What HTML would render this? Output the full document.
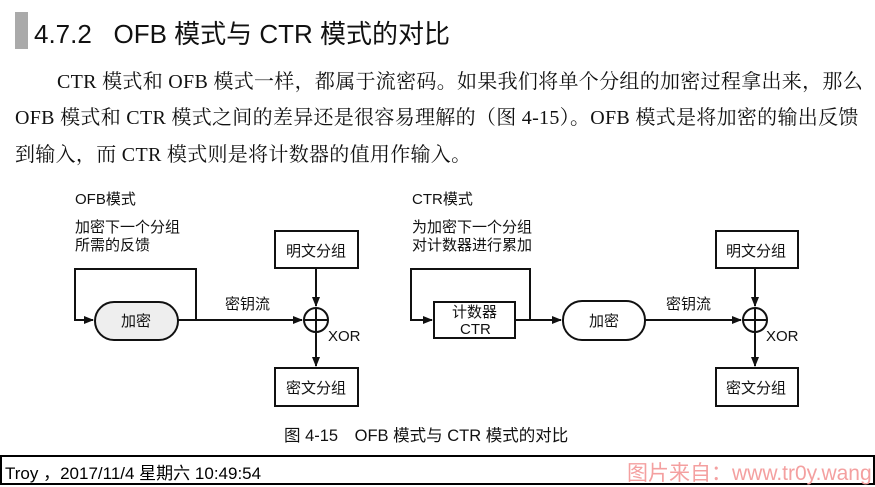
<!DOCTYPE html>
<html><head><meta charset="utf-8"><style>
body{margin:0;width:875px;height:485px;background:#fff;overflow:hidden;position:relative;font-family:"Liberation Sans","Noto Sans CJK SC",sans-serif;}
.t{position:absolute;white-space:nowrap;color:#111;}
.p{font-family:"Liberation Serif","Noto Serif CJK SC",serif;font-size:20px;letter-spacing:0.3px;}
</style></head><body>
<div style="position:absolute;left:15px;top:12px;width:13px;height:37px;background:#aaa"></div>
<div class="t" style="left:34px;top:14px;font-size:26px;">4.7.2&nbsp;&nbsp; OFB 模式与 CTR 模式的对比</div>
<div class="t p" style="left:57px;top:65px;">CTR 模式和 OFB 模式一样，都属于流密码。如果我们将单个分组的加密过程拿出来，那么</div>
<div class="t p" style="left:15px;top:101px;">OFB 模式和 CTR 模式之间的差异还是很容易理解的（图 4-15）。OFB 模式是将加密的输出反馈</div>
<div class="t p" style="left:15px;top:138px;">到输入，而 CTR 模式则是将计数器的值用作输入。</div>
<svg width="875" height="485" style="position:absolute;left:0;top:0" font-family="Liberation Sans,Noto Sans CJK SC,sans-serif" font-size="15" fill="#111">
<defs><marker id="a" markerWidth="10" markerHeight="8" refX="9" refY="4" orient="auto" markerUnits="userSpaceOnUse"><path d="M0,0L10,4L0,8z" fill="#111"/></marker></defs>
<g stroke="#111" stroke-width="2" fill="none">
<path d="M196,320V269H75V320H93" marker-end="url(#a)"/>
<rect x="95" y="302" width="83" height="38" rx="19" fill="#eee"/>
<path d="M178,320H302" marker-end="url(#a)"/>
<circle cx="316" cy="320" r="12"/><path d="M304,320H328M316,308V332"/>
<rect x="275" y="231" width="83" height="37"/>
<path d="M316,268V306" marker-end="url(#a)"/>
<path d="M316,332V366" marker-end="url(#a)"/>
<rect x="275" y="368" width="83" height="38"/>
<path d="M530,320V269H411V320H432" marker-end="url(#a)"/>
<rect x="434" y="302" width="81" height="36"/>
<path d="M515,320H561" marker-end="url(#a)"/>
<rect x="563" y="301" width="82" height="39" rx="19"/>
<path d="M645,320H741" marker-end="url(#a)"/>
<circle cx="755" cy="320" r="12"/><path d="M743,320H767M755,308V332"/>
<rect x="716" y="231" width="82" height="37"/>
<path d="M755,268V306" marker-end="url(#a)"/>
<path d="M755,332V366" marker-end="url(#a)"/>
<rect x="716" y="368" width="82" height="38"/>
</g>
<text x="75" y="204">OFB模式</text>
<text x="75" y="232">加密下一个分组</text>
<text x="75" y="250">所需的反馈</text>
<text x="121" y="326">加密</text>
<text x="225" y="309">密钥流</text>
<text x="286" y="256">明文分组</text>
<text x="286" y="393">密文分组</text>
<text x="328" y="341">XOR</text>
<text x="412" y="204">CTR模式</text>
<text x="412" y="232">为加密下一个分组</text>
<text x="412" y="250">对计数器进行累加</text>
<text x="452" y="317">计数器</text>
<text x="460" y="334">CTR</text>
<text x="589" y="326">加密</text>
<text x="666" y="309">密钥流</text>
<text x="726" y="256">明文分组</text>
<text x="726" y="393">密文分组</text>
<text x="766" y="341">XOR</text>
<text x="284" y="441" font-size="16.5">图 4-15　OFB 模式与 CTR 模式的对比</text>
</svg>
<div style="position:absolute;left:0;top:455px;width:871px;height:26px;border:2px solid #000;"></div>
<div class="t" style="left:5px;top:459px;font-size:17px;color:#000;">Troy ，2017/11/4 星期六 10:49:54</div>
<div class="t" style="left:627px;top:457px;font-size:21px;color:#f4a0a0;">图片来自：www.tr0y.wang</div>
</body></html>
